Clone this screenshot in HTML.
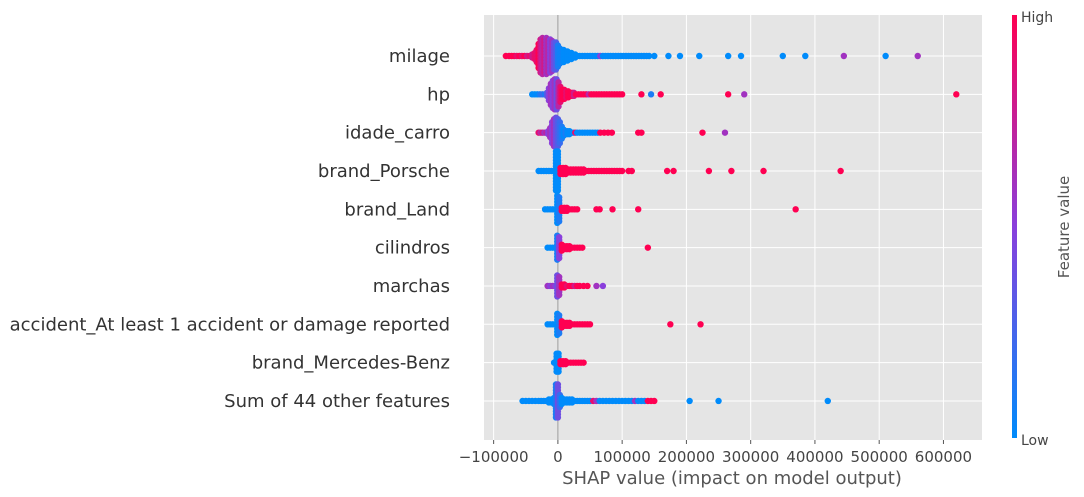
<!DOCTYPE html>
<html><head><meta charset="utf-8"><style>
html,body{margin:0;padding:0;background:#fff;}
svg{display:block;font-family:"DejaVu Sans","Liberation Sans",sans-serif;}
</style></head><body>
<svg id="chart" width="1084" height="497" xmlns="http://www.w3.org/2000/svg">
<defs><linearGradient id="cb" x1="0" y1="1" x2="0" y2="0">
<stop offset="0" stop-color="#008bfb"/><stop offset="0.5" stop-color="#8a3fdc"/><stop offset="1" stop-color="#ff0052"/></linearGradient></defs>
<rect x="484" y="15" width="498" height="425" fill="#e5e5e5"/>
<g id="grid"></g><g id="dots"></g><g id="axes"></g>
<rect x="1012" y="15" width="5" height="423" fill="url(#cb)"/>
<text x="1021" y="22" font-size="14" fill="#444">High</text>
<text x="1021" y="445" font-size="14" fill="#444">Low</text>
<text transform="translate(1069,227) rotate(-90)" text-anchor="middle" font-size="15" fill="#555">Feature value</text>
<text x="732" y="484" text-anchor="middle" font-size="18" fill="#555">SHAP value (impact on model output)</text>
</svg>
<script>
const features = ["milage","hp","idade_carro","brand_Porsche","brand_Land","cilindros","marchas","accident_At least 1 accident or damage reported","brand_Mercedes-Benz","Sum of 44 other features"];
const tickValues = [-100000,0,100000,200000,300000,400000,500000,600000];
const tickLabels = ["\u2212100000","0","100000","200000","300000","400000","500000","600000"];
// SHAP values in thousands, dot counts per bin, feature value (0 low .. 1 high)
const milageX = [-81,-76,-72,-68,-64,-60,-56,-52,-48,-44,-40,-36,-33,-30,-27,-24,-21,-18,-15,-12,-9,-6,-3,0,3,6,9,12,15,18,21,24,27,30,34,38,42,46,50,54,58,62,66,70,74,78,82,86,90,94,98,102,106,110,114,118,122,126,130,134,138,142,150,172,190,220,265,285,350,385,445,510,560];
const milageN = [1,1,1,1,1,1,1,1,1,1,2,3,5,9,12,13,12,13,12,12,11,10,10,8,6,5,5,4,4,3,3,2,2,1,1,1,1,1,1,1,1,1,1,1,1,1,1,1,1,1,1,1,1,1,1,1,1,1,1,1,1,1,1,1,1,1,1,1,1,1,1,1,1];
const milageC = [1,1,1,1,0.9,1,0.9,1,0.8,0.9,0.8,0.9,0.9,1,0.8,0.7,0.8,0.6,0.7,0.5,0.6,0.4,0.3,0.1,0.05,0.05,0,0,0,0,0,0,0,0,0,0,0,0,0,0,0,0,0.5,0,0,0,0,0,0,0,0,0,0,0,0,0,0,0,0,0,0,0,0,0,0,0,0,0,0,0,0.6,0,0.6];
const hpX = [-40,-36,-32,-28,-24,-20,-17,-14,-11,-8,-5,-2,1,4,7,10,13,16,19,22,25,28,32,36,40,44,48,52,56,60,64,68,72,76,80,84,88,92,96,100,130,145,160,265,290,620];
const hpN = [1,1,1,1,1,1,2,5,8,10,11,11,9,6,4,4,3,3,2,2,2,1,1,1,1,1,1,1,1,1,1,1,1,1,1,1,1,1,1,1,1,1,1,1,1,1];
const hpC = [0,0,0,0.1,0.2,0.1,0.3,0.5,0.6,0.5,0.6,0.4,0.7,0.9,1,1,0.9,1,1,1,0.8,1,1,1,1,1,0.7,1,1,1,1,1,1,1,1,1,1,1,1,1,1,0.1,1,1,0.6,1];
const idadeX = [-30,-27,-24,-21,-18,-15,-12,-9,-6,-3,0,3,6,9,12,15,18,21,24,27,30,34,38,42,46,50,54,58,62,66,72,78,84,125,130,225,260];
const idadeN = [1,1,1,1,1,2,4,8,10,11,10,8,5,3,2,2,2,1,1,1,1,1,1,1,1,1,1,1,1,1,1,1,1,1,1,1,1];
const idadeC = [0.9,0.7,0.8,0.6,0.7,0.5,0.6,0.5,0.6,0.4,0.3,0.2,0.1,0,0.1,0,0,0,0,0.9,0,0,0,0,0,0,0,0,0,1,1,1,1,1,1,1,0.6];
const porscheX = [-30,-26,-22,-18,-14,-10,-6,-3,0,4,8,12,16,20,24,28,32,36,40,44,48,52,56,60,64,68,72,76,80,84,88,92,96,100,110,115,170,180,235,270,320,440];
const porscheN = [1,1,1,1,1,1,1,14,14,3,3,3,2,2,2,2,2,2,2,1,1,1,1,1,1,1,1,1,1,1,1,1,1,1,1,1,1,1,1,1,1,1];
const porscheC = [0,0,0,0,0,0,0,0,0,1,1,1,1,1,1,1,1,1,1,1,1,1,1,1,1,1,1,1,1,1,1,1,1,1,1,1,1,1,1,1,1,1];
const landX = [-20,-16,-12,-8,-4,-1,2,6,10,14,18,22,26,30,60,65,85,125,370];
const landN = [1,1,1,1,1,10,9,2,2,2,1,1,1,1,1,1,1,1,1];
const landC = [0,0,0,0,0,0,0.1,1,1,1,1,1,1,1,1,1,1,1,1];
const cilX = [-16,-12,-8,-4,-1,2,6,10,14,18,22,26,30,34,38,140];
const cilN = [1,1,1,1,9,8,3,2,2,2,1,1,1,1,1,1];
const cilC = [0,0,0,0,0.1,0.5,1,1,1,1,1,1,1,1,1,1];
const marchasX = [-16,-12,-8,-4,-1,2,6,10,14,18,22,26,30,34,40,46,60,70];
const marchasN = [1,1,1,1,8,7,2,2,1,1,1,1,1,1,1,1,1,1];
const marchasC = [0.6,0.5,0.6,0.5,0.4,0.6,1,1,0.9,1,1,0.8,1,1,1,1,0.6,0.5];
const accX = [-16,-12,-8,-4,-1,2,6,10,14,18,22,26,30,34,38,42,46,50,175,222];
const accN = [1,1,1,1,8,7,3,2,2,2,1,1,1,1,1,1,1,1,1,1];
const accC = [0,0,0,0,0,0.1,1,1,1,1,1,1,1,1,1,1,1,1,1,1];
const mercX = [-6,-2,1,4,8,12,16,20,24,28,32,36,40];
const mercN = [1,7,7,2,2,2,1,1,1,1,1,1,1];
const mercC = [0,0,0,1,1,1,1,1,1,1,1,1,1];
const sumX = [-55,-50,-45,-40,-35,-30,-26,-22,-18,-14,-10,-6,-3,0,3,6,10,14,18,22,26,30,34,38,42,46,50,55,60,65,70,75,80,85,90,95,100,105,110,115,120,125,130,135,140,145,150,205,250,420];
const sumN = [1,1,1,1,1,1,1,1,1,2,2,3,12,12,5,3,2,2,2,2,1,1,1,1,1,1,1,1,1,1,1,1,1,1,1,1,1,1,1,1,1,1,1,1,1,1,1,1,1,1];
const sumC = [0,0,0,0,0,0,0,0,0,0,0,0,0.1,0.4,0.2,0,0,0,0,0,0,0,0,0,0,0,0,0.9,0.6,0,0,0,0,0,0,0,0,0,0,0,0.6,0,0,0,1,1,1,0,0,0];
const rowX = [milageX,hpX,idadeX,porscheX,landX,cilX,marchasX,accX,mercX,sumX];
const rowN = [milageN,hpN,idadeN,porscheN,landN,cilN,marchasN,accN,mercN,sumN];
const rowC = [milageC,hpC,idadeC,porscheC,landC,cilC,marchasC,accC,mercC,sumC];

const NS="http://www.w3.org/2000/svg";
const X0=484,X1=982,D0=-115000,D1=660000;
const xs=v=>X0+(v-D0)/(D1-D0)*(X1-X0);
const ys=i=>56+i*38.33;
function col(t){
  const a=[0,139,251],m=[138,63,220],b=[255,0,82];
  let c;
  if(t<0.5){const k=t/0.5;c=a.map((v,j)=>Math.round(v+(m[j]-v)*k));}
  else{const k=(t-0.5)/0.5;c=m.map((v,j)=>Math.round(v+(b[j]-v)*k));}
  return "rgb("+c.join(",")+")";
}
function el(tag,attrs,parent){const e=document.createElementNS(NS,tag);for(const k in attrs)e.setAttribute(k,attrs[k]);parent.appendChild(e);return e;}
const grid=document.getElementById('grid'),dots=document.getElementById('dots'),axes=document.getElementById('axes');
tickValues.forEach((v,i)=>{
  const g=el('line',{x1:xs(v),x2:xs(v),y1:15,y2:440,stroke:'#fff','stroke-width':1},grid);
  
  
  const t=el('line',{x1:xs(v),x2:xs(v),y1:440,y2:444,stroke:'#555','stroke-width':1},axes);
  
  
  const l=el('text',{x:xs(v),y:462,'text-anchor':'middle','font-size':15,fill:'#444'},axes);
  l.textContent=tickLabels[i];
  
  
});
features.forEach((f,i)=>{
  const g=el('line',{x1:X0,x2:X1,y1:ys(i),y2:ys(i),stroke:'#fff','stroke-width':1},grid);
  
  
  const l=el('text',{x:450,y:ys(i)+6,'text-anchor':'end','font-size':18,fill:'#333'},axes);
  l.textContent=f;
  
  
});
const z=el('line',{x1:xs(0),x2:xs(0),y1:15,y2:440,stroke:'#999','stroke-width':1},grid);


rowX.forEach((arr,i)=>{
  arr.forEach((v,j)=>{
    const n=rowN[i][j];
    for(let k=0;k<n;k++){
      const off=(k-(n-1)/2)*3;
      const d=el('circle',{cx:xs(v*1000),cy:ys(i)+off,r:3.2,fill:col(rowC[i][j])},dots);
      
      
    }
  });
});
</script>
</body></html>
